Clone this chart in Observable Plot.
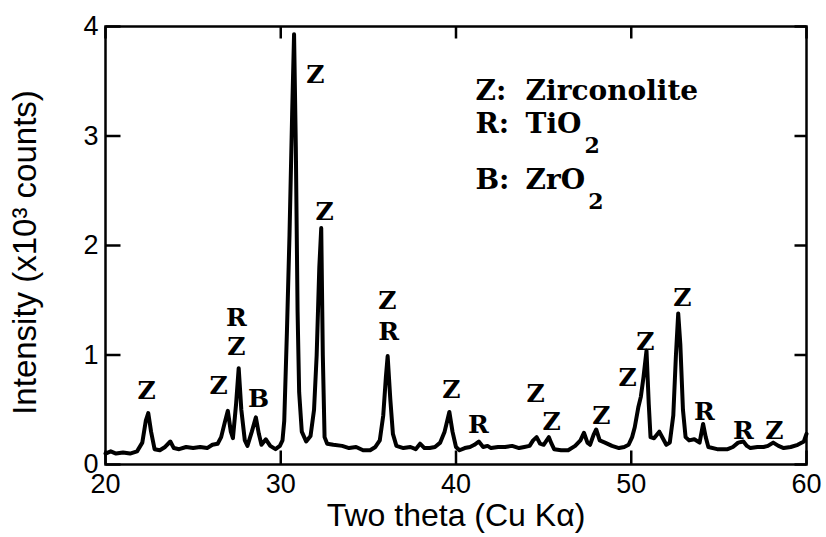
<!DOCTYPE html>
<html><head><meta charset="utf-8">
<script src="https://cdn.jsdelivr.net/npm/d3@7"></script>
<script src="https://cdn.jsdelivr.net/npm/@observablehq/plot@0.6"></script>
<style>body{margin:0;background:#fff} svg{display:block}</style>
</head><body><div id="chart"></div>
<script>
// XRD pattern: two theta (deg) and intensity (x10^3 counts)
const twoTheta = [20.0,20.3,20.6,21.0,21.4,21.8,22.1,22.3,22.44,22.6,22.8,23.1,23.4,23.7,23.9,24.2,24.6,25.0,25.4,25.8,26.1,26.4,26.6,26.8,26.98,27.15,27.27,27.45,27.6,27.75,27.95,28.1,28.35,28.58,28.75,28.9,29.15,29.4,29.7,29.95,30.1,30.2,30.35,30.5,30.65,30.76,30.86,30.96,31.05,31.2,31.45,31.7,31.9,32.05,32.2,32.31,32.4,32.5,32.65,33.0,33.5,33.9,34.3,34.7,35.1,35.4,35.65,35.85,36.0,36.1,36.25,36.4,36.6,37.0,37.4,37.7,37.95,38.2,38.5,38.8,39.1,39.35,39.62,39.8,40.0,40.2,40.5,40.8,41.05,41.3,41.55,41.8,42.0,42.4,42.8,43.2,43.6,43.9,44.2,44.4,44.6,44.8,45.0,45.3,45.45,45.6,46.0,46.4,46.8,47.1,47.3,47.5,47.65,47.85,48.0,48.2,48.5,48.9,49.3,49.6,49.85,50.05,50.2,50.4,50.55,50.7,50.87,51.0,51.1,51.3,51.6,51.8,52.0,52.2,52.4,52.55,52.68,52.8,52.95,53.1,53.3,53.6,53.9,54.1,54.25,54.4,54.9,55.5,55.8,56.1,56.4,56.6,56.8,57.2,57.55,57.8,58.1,58.4,58.7,59.1,59.5,59.85,60.0];
const intensity = [0.10,0.12,0.10,0.11,0.10,0.12,0.20,0.40,0.47,0.30,0.14,0.13,0.16,0.21,0.15,0.14,0.16,0.15,0.16,0.15,0.18,0.19,0.25,0.38,0.49,0.30,0.24,0.55,0.88,0.50,0.22,0.17,0.30,0.43,0.28,0.18,0.23,0.17,0.14,0.17,0.22,0.40,1.2,2.1,3.2,3.93,2.9,1.4,0.66,0.30,0.21,0.26,0.5,1.0,1.8,2.16,1.0,0.25,0.19,0.18,0.17,0.15,0.16,0.13,0.13,0.16,0.22,0.45,0.80,0.99,0.6,0.28,0.17,0.15,0.16,0.14,0.19,0.15,0.15,0.16,0.20,0.30,0.48,0.30,0.16,0.13,0.15,0.16,0.18,0.21,0.16,0.17,0.15,0.16,0.16,0.17,0.15,0.16,0.17,0.22,0.25,0.19,0.18,0.25,0.19,0.14,0.13,0.13,0.17,0.22,0.29,0.2,0.18,0.27,0.32,0.22,0.20,0.17,0.15,0.16,0.18,0.25,0.34,0.52,0.62,0.80,1.04,0.55,0.25,0.24,0.30,0.24,0.18,0.20,0.45,1.0,1.38,1.1,0.5,0.25,0.22,0.23,0.20,0.37,0.25,0.16,0.14,0.14,0.16,0.20,0.21,0.17,0.15,0.16,0.16,0.17,0.20,0.17,0.15,0.16,0.18,0.21,0.28];

const xTicks = [20, 30, 40, 50, 60];
const yTicks = [0, 1, 2, 3, 4];

// phase labels over peaks (data coordinates)
const peakText = ["Z","Z","R","Z","B","Z","Z","Z","R","Z","R","Z","Z","Z","Z","Z","Z","R","R","Z"];
const peakX    = [22.34,26.45,27.47,27.47,28.73,31.98,32.5,36.09,36.15,39.74,41.28,44.54,45.45,48.3,49.79,50.81,52.92,54.18,56.4,58.17];
const peakY    = [0.667,0.72,1.34,1.07,0.60,3.56,2.31,1.49,1.21,0.68,0.36,0.64,0.39,0.44,0.79,1.12,1.52,0.48,0.31,0.31];

// legend
const legendCode = ["Z:", "R:", "B:"];
const legendName = ["Zirconolite", "TiO2", "ZrO2"];
const legendRowY = [3.415, 3.105, 2.594];
const legendCodeX = 41.11;
const legendNameX = 43.97;

const spectrum = twoTheta.map((x, i) => ({x, y: intensity[i]}));
const peaks = peakText.map((t, i) => ({t, x: peakX[i], y: peakY[i]}));
const legend = legendCode.map((c, i) => ({c, n: legendName[i], y: legendRowY[i]}));

// layout
const W = 826, H = 537, mL = 105, mR = 20, mT = 26, mB = 73;
const xDom = [20, 60], yDom = [0, 4];
// inward tick lengths, converted from pixels to data units
const pxX = (W - mL - mR) / (xDom[1] - xDom[0]);
const pxY = (H - mT - mB) / (yDom[1] - yDom[0]);
const tkB = 14 / pxY, tkT = 12 / pxY, tkL = 15 / pxX, tkR = 12 / pxX;

const serif = "DejaVu Serif, serif";
const fmt = d3.format("d");
const tickStyle = {stroke: "black", strokeWidth: 2.5};
const plot = Plot.plot({
  width: W, height: H,
  marginLeft: mL, marginRight: mR, marginTop: mT, marginBottom: mB,
  x: {domain: xDom},
  y: {domain: yDom},
  style: {fontFamily: "Liberation Sans, Arial, sans-serif", background: "white", color: "black"},
  marks: [
    Plot.line(spectrum, {x: "x", y: "y", stroke: "black", strokeWidth: 4, strokeLinejoin: "round"}),
    Plot.frame({stroke: "black", strokeWidth: 2.5}),
    Plot.link(xTicks, {x1: d => d, x2: d => d, y1: () => yDom[0], y2: () => yDom[0] + tkB, ...tickStyle}),
    Plot.link(xTicks, {x1: d => d, x2: d => d, y1: () => yDom[1], y2: () => yDom[1] - tkT, ...tickStyle}),
    Plot.link(yTicks, {y1: d => d, y2: d => d, x1: () => xDom[0], x2: () => xDom[0] + tkL, ...tickStyle}),
    Plot.link(yTicks, {y1: d => d, y2: d => d, x1: () => xDom[1], x2: () => xDom[1] - tkR, ...tickStyle}),
    Plot.axisX({anchor: "bottom", ticks: xTicks, tickSize: 0, tickPadding: 9, tickFormat: fmt, fontSize: 27, label: null}),
    Plot.axisY({anchor: "left", ticks: yTicks, tickSize: 0, tickPadding: 7, tickFormat: fmt, fontSize: 27, label: null}),
    Plot.text(["Intensity (x10³ counts)"], {frameAnchor: "left", textAnchor: "middle", lineAnchor: "middle", rotate: -90, dx: -80, dy: 7, fontSize: 33}),
    Plot.text(["Two theta (Cu Kα)"], {frameAnchor: "bottom", lineAnchor: "middle", dy: 51, fontSize: 32}),
    Plot.text(peaks, {x: "x", y: "y", text: "t", fontFamily: serif, fontWeight: "bold", fontSize: 25}),
    Plot.text(legend, {x: () => legendCodeX, y: "y", text: "c", textAnchor: "start", fontFamily: serif, fontWeight: "bold", fontSize: 28}),
    Plot.text(legend, {x: () => legendNameX, y: "y", text: "n", textAnchor: "start", fontFamily: serif, fontWeight: "bold", fontSize: 28})
  ]
});

// render chemical subscripts
plot.querySelectorAll("text").forEach(t => {
  const m = t.textContent.match(/^(.*O)2$/);
  if (m && t.children.length === 0) {
    t.textContent = m[1];
    const ts = document.createElementNS("http://www.w3.org/2000/svg", "tspan");
    ts.setAttribute("dy", "20");
    ts.setAttribute("dx", "3");
    ts.setAttribute("font-size", "22");
    ts.textContent = "2";
    t.appendChild(ts);
  }
});
document.getElementById("chart").appendChild(plot);
</script>
</body></html>
